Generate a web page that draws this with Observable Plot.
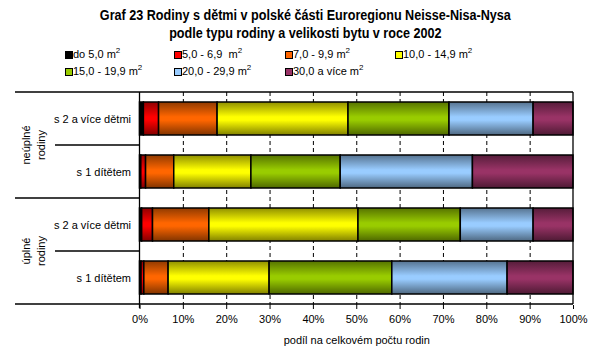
<!DOCTYPE html>
<html><head><meta charset="utf-8">
<script src="https://cdn.jsdelivr.net/npm/d3@7"></script>
<script src="https://cdn.jsdelivr.net/npm/@observablehq/plot@0.6"></script>
<style>
body{margin:0;background:#fff;font-family:"Liberation Sans",Arial,sans-serif;color:#000;}
#wrap{position:relative;width:610px;height:353px;overflow:hidden;}
.title{position:absolute;left:0;width:610px;text-align:center;font-family:"Liberation Sans",Arial,sans-serif;font-weight:bold;font-size:14px;line-height:18px;}
.title span{display:inline-block;transform:scaleX(0.9);transform-origin:center;}
.leg{position:absolute;font-size:11px;line-height:13px;white-space:pre;}
.leg .sw{position:absolute;left:0;top:3px;width:6px;height:6px;border:1px solid #000;}
.leg .tx{position:absolute;left:8px;top:0;}
.leg sup{font-size:8px;line-height:0;vertical-align:5px;}
#chart{position:absolute;left:0;top:85px;}
</style></head>
<body><div id="wrap">
<div class="title" style="top:6px"><span>Graf 23 Rodiny s dětmi v polské části Euroregionu Neisse-Nisa-Nysa</span></div>
<div class="title" style="top:24px"><span>podle typu rodiny a velikosti bytu v roce 2002</span></div>
<div id="legend"></div>
<div id="chart"></div>
</div>
<script>
// ---- data ----
const groups = ["neúplné rodiny", "neúplné rodiny", "úplné rodiny", "úplné rodiny"];
const subgroups = ["s 2 a více dětmi", "s 1 dítětem", "s 2 a více dětmi", "s 1 dítětem"];
const sizeClasses = ["do 5,0", "5,0 - 6,9 ", "7,0 - 9,9", "10,0 - 14,9", "15,0 - 19,9", "20,0 - 29,9", "30,0 a více"];
const colors = ["#000000", "#ff0000", "#ff6600", "#ffff00", "#99cc00", "#99ccff", "#993366"];
const vDo5 = [0.9, 0.3, 0.5, 0.35];
const v5_69 = [3.5, 1.1, 2.5, 0.65];
const v7_99 = [13.5, 6.5, 13.0, 5.6];
const v10_149 = [30.2, 17.8, 34.4, 23.3];
const v15_199 = [23.3, 20.6, 23.6, 28.3];
const v20_299 = [19.4, 30.5, 16.8, 26.6];
const v30plus = [9.2, 23.2, 9.2, 15.2];
const xTicks = [0, 10, 20, 30, 40, 50, 60, 70, 80, 90, 100];
const xLabel = "podíl na celkovém počtu rodin";

const series = [vDo5, v5_69, v7_99, v10_149, v15_199, v20_299, v30plus];
const rowKeys = groups.map((g, i) => g + "|" + subgroups[i]);
const data = [];
series.forEach((vals, si) => vals.forEach((v, ri) => data.push({row: rowKeys[ri], cls: sizeClasses[si], value: v})));

// ---- legend ----
const legendPos = [[65,48],[174,48],[285,48],[395,48],[65,65],[174,65],[285,65]];
const legend = document.getElementById("legend");
sizeClasses.forEach((c, i) => {
  const d = document.createElement("div");
  d.className = "leg";
  d.style.left = legendPos[i][0] + "px";
  d.style.top = legendPos[i][1] + "px";
  d.innerHTML = `<span class="sw" style="background:${colors[i]}"></span><span class="tx">${c} m<sup>2</sup></span>`;
  legend.appendChild(d);
});

// ---- chart ----
const W = 610, H = 268, mL = 139.5, mR = 37, mT = 7, mB = 48;
const gradIds = colors.map((c, i) => "grad" + i);
const plot = Plot.plot({
  width: W, height: H,
  marginLeft: mL, marginRight: mR, marginTop: mT, marginBottom: mB,
  style: {fontFamily: "'Liberation Sans', Arial, sans-serif", fontSize: "11px", color: "#000", background: "#fff"},
  x: {domain: [0, 100], ticks: xTicks, tickFormat: d => d + "%", label: xLabel},
  y: {domain: rowKeys, paddingInner: 0.37, paddingOuter: 0.185, label: null},
  color: {domain: sizeClasses, range: gradIds.map(id => `url(#${id})`)},
  marks: [
    Plot.gridX(xTicks.filter(t => t > 0 && t < 100), {stroke: "#000", strokeOpacity: 1, strokeWidth: 1, strokeDasharray: "4,3"}),
    Plot.barX(data, Plot.stackX({x: "value", y: "row", fill: "cls", stroke: "#000", strokeWidth: 1.5, order: null})),
    Plot.axisX({ticks: xTicks, tickFormat: d => d + "%", tickSize: 4, tickPadding: 6, stroke: "#000", label: xLabel, labelAnchor: "center", labelArrow: "none", labelOffset: 38, fontSize: 11}),
    Plot.axisY({tickSize: 0, tickPadding: 9, tickFormat: d => d.split("|")[1], label: null, fontSize: 11})
  ]
});
document.getElementById("chart").appendChild(plot);

const svg = d3.select(plot);
// gradients
const defs = svg.insert("defs", ":first-child");
colors.forEach((c, i) => {
  const base = d3.rgb(c);
  const g = defs.append("linearGradient").attr("id", gradIds[i]).attr("x1", 0).attr("y1", 0).attr("x2", 0).attr("y2", 1);
  g.append("stop").attr("offset", "0%").attr("stop-color", base.darker(1.6));
  g.append("stop").attr("offset", "45%").attr("stop-color", base);
  g.append("stop").attr("offset", "55%").attr("stop-color", base);
  g.append("stop").attr("offset", "100%").attr("stop-color", base.darker(1.9));
});

// category axis frame lines via scales
const ys = plot.scale("y"), xs = plot.scale("x");
const step = ys.step, bw = ys.bandwidth;
const bounds = rowKeys.map((k, i) => ys.apply(k) - (step - bw) / 2);
bounds.push(bounds[bounds.length - 1] + step);
const x0 = xs.apply(0), x100 = xs.apply(100);
const lay = svg.append("g").attr("stroke", "#000").attr("stroke-width", 1.3).attr("fill", "none");
bounds.forEach((b, i) => {
  const isGroupEdge = i === 0 || i === bounds.length - 1 || groups[i] !== groups[i - 1];
  lay.append("line").attr("x1", isGroupEdge ? 15 : 55).attr("x2", (i === 0 || i === bounds.length - 1) ? x100 : x0).attr("y1", b).attr("y2", b);
});
lay.append("line").attr("x1", x0).attr("x2", x0).attr("y1", bounds[0]).attr("y2", bounds[bounds.length - 1] + 4);
lay.append("line").attr("x1", x100).attr("x2", x100).attr("y1", bounds[0]).attr("y2", bounds[bounds.length - 1]);

// group labels (rotated, two lines)
const uniqueGroups = [...new Set(groups)];
uniqueGroups.forEach(g => {
  const idx = groups.map((gg, i) => gg === g ? i : -1).filter(i => i >= 0);
  const cy = (bounds[idx[0]] + bounds[idx[idx.length - 1] + 1]) / 2;
  const words = g.split(" ");
  const t = svg.append("text").attr("transform", `translate(33,${cy}) rotate(-90)`)
    .attr("text-anchor", "middle").attr("font-size", 11).attr("fill", "#000")
    .attr("font-family", "'Liberation Sans', Arial, sans-serif");
  words.forEach((w, wi) => t.append("tspan").attr("x", 0).attr("y", (wi - (words.length - 1) / 2) * 15 + 4).text(w));
});
</script>
</body></html>
